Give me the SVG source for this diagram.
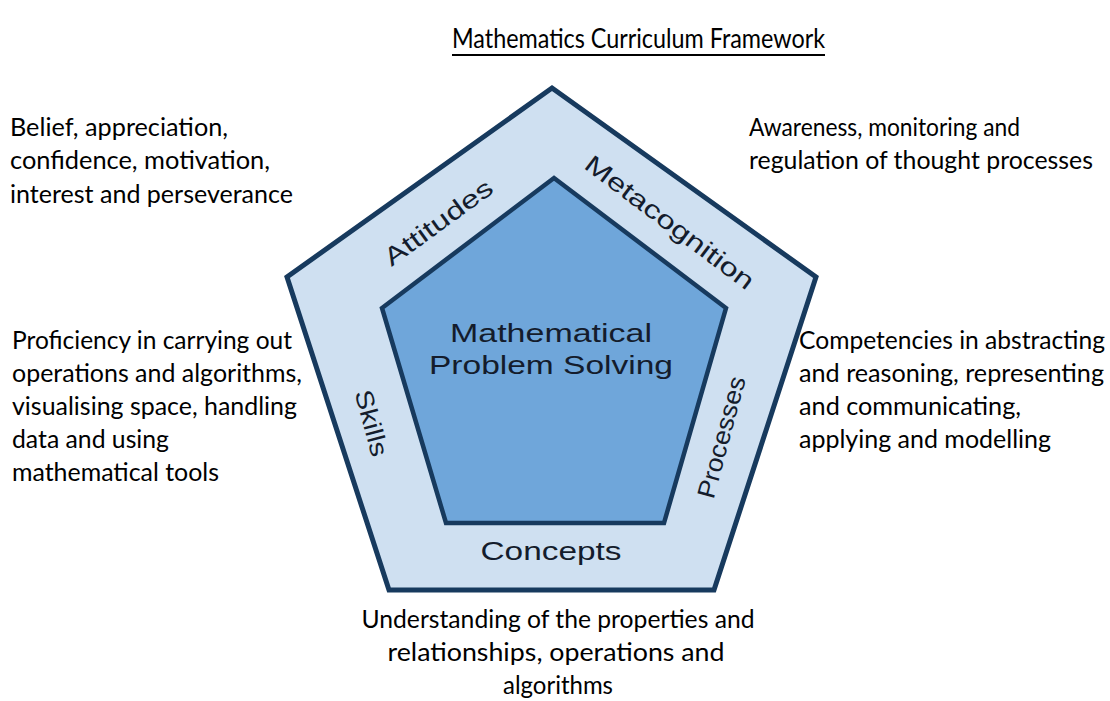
<svg xmlns="http://www.w3.org/2000/svg" width="1110" height="701" viewBox="0 0 1110 701">
  <style>
    .body { font-family: Lato, "Open Sans", "Liberation Sans", sans-serif; font-size: 25px; fill: #000; }
    .lab { font-family: "Liberation Sans", Arial, sans-serif; font-size: 25px; fill: #141c2c; }
    .title { font-family: Lato, "Liberation Sans", sans-serif; font-size: 26px; fill: #000; }
  </style>
  <rect width="1110" height="701" fill="#ffffff"/>
  <g id="title">
    <text class="title" x="452" y="48" textLength="373" lengthAdjust="spacingAndGlyphs">Mathematics Curriculum Framework</text>
    <line x1="452" y1="55" x2="825" y2="55" stroke="#000" stroke-width="1.8"/>
  </g>
  <g id="outer-pentagon">
    <polygon points="552,88 816,277 714,590 389,590 287,277" fill="#cfe0f1" stroke="#173a5e" stroke-width="5" stroke-linejoin="miter"/>
    <text class="lab" transform="translate(438,222) rotate(-36)" x="0" y="9" text-anchor="middle" textLength="128" lengthAdjust="spacingAndGlyphs">Attitudes</text>
    <text class="lab" transform="translate(670,222) rotate(37)" x="0" y="9" text-anchor="middle" textLength="205" lengthAdjust="spacingAndGlyphs">Metacognition</text>
    <text class="lab" transform="translate(372,423) rotate(75)" x="0" y="9" text-anchor="middle" textLength="68" lengthAdjust="spacingAndGlyphs">Skills</text>
    <text class="lab" transform="translate(721,437) rotate(-75)" x="0" y="9" text-anchor="middle" textLength="125" lengthAdjust="spacingAndGlyphs">Processes</text>
    <text class="lab" x="551" y="560" text-anchor="middle" textLength="141" lengthAdjust="spacingAndGlyphs">Concepts</text>
  </g>
  <g id="inner-pentagon">
    <polygon points="554,178 726,308 664,523 446,523 382,308" fill="#6fa6da" stroke="#173a5e" stroke-width="4.5"/>
    <text class="lab" x="551" y="342" text-anchor="middle" textLength="202" lengthAdjust="spacingAndGlyphs">Mathematical</text>
    <text class="lab" x="551" y="374" text-anchor="middle" textLength="244" lengthAdjust="spacingAndGlyphs">Problem Solving</text>
  </g>
  <g id="attitudes-desc">
    <text class="body" x="10" y="136" textLength="218" lengthAdjust="spacingAndGlyphs">Belief, appreciation,</text>
    <text class="body" x="10" y="169" textLength="260" lengthAdjust="spacingAndGlyphs">confidence, motivation,</text>
    <text class="body" x="10" y="203" textLength="283" lengthAdjust="spacingAndGlyphs">interest and perseverance</text>
  </g>
  <g id="metacognition-desc">
    <text class="body" x="749" y="136" textLength="271" lengthAdjust="spacingAndGlyphs">Awareness, monitoring and</text>
    <text class="body" x="749" y="169" textLength="344" lengthAdjust="spacingAndGlyphs">regulation of thought processes</text>
  </g>
  <g id="skills-desc">
    <text class="body" x="12" y="349" textLength="280" lengthAdjust="spacingAndGlyphs">Proficiency in carrying out</text>
    <text class="body" x="12" y="382" textLength="290" lengthAdjust="spacingAndGlyphs">operations and algorithms,</text>
    <text class="body" x="12" y="415" textLength="285" lengthAdjust="spacingAndGlyphs">visualising space, handling</text>
    <text class="body" x="12" y="448" textLength="157" lengthAdjust="spacingAndGlyphs">data and using</text>
    <text class="body" x="12" y="481" textLength="207" lengthAdjust="spacingAndGlyphs">mathematical tools</text>
  </g>
  <g id="processes-desc">
    <text class="body" x="799" y="349" textLength="306" lengthAdjust="spacingAndGlyphs">Competencies in abstracting</text>
    <text class="body" x="799" y="382" textLength="305" lengthAdjust="spacingAndGlyphs">and reasoning, representing</text>
    <text class="body" x="799" y="415" textLength="222" lengthAdjust="spacingAndGlyphs">and communicating,</text>
    <text class="body" x="799" y="448" textLength="252" lengthAdjust="spacingAndGlyphs">applying and modelling</text>
  </g>
  <g id="concepts-desc">
    <text class="body" x="558" y="628" text-anchor="middle" textLength="393" lengthAdjust="spacingAndGlyphs">Understanding of the properties and</text>
    <text class="body" x="556" y="661" text-anchor="middle" textLength="337" lengthAdjust="spacingAndGlyphs">relationships, operations and</text>
    <text class="body" x="558" y="694" text-anchor="middle" textLength="110" lengthAdjust="spacingAndGlyphs">algorithms</text>
  </g>
  <g id="connectors"></g>
</svg>
